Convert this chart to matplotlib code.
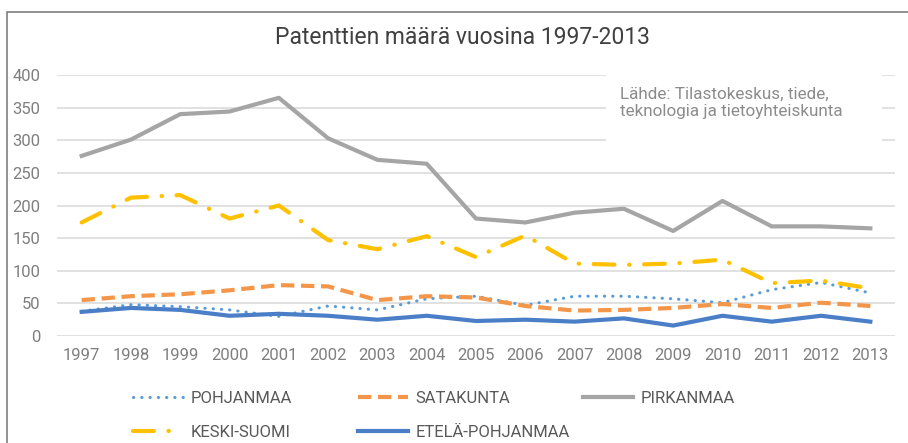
import matplotlib.pyplot as plt
from matplotlib.patches import Rectangle

plt.rcParams['font.family'] = ['Roboto', 'DejaVu Sans']

years = list(range(1997, 2014))
pohjanmaa = [38, 48, 45, 40, 30, 46, 40, 57, 61, 47, 61, 61, 57, 51, 71, 82, 66]
satakunta = [55, 61, 64, 70, 78, 76, 55, 61, 59, 46, 39, 40, 43, 49, 43, 51, 46]
pirkanmaa = [276, 301, 340, 344, 365, 303, 270, 264, 180, 174, 189, 195, 161, 207, 168, 168, 165]
keski_suomi = [174, 212, 216, 180, 200, 147, 133, 153, 121, 154, 111, 109, 111, 117, 81, 85, 73]
etela_pohjanmaa = [37, 43, 40, 31, 34, 31, 25, 31, 23, 25, 22, 27, 16, 31, 22, 31, 22]
yticks = [0, 50, 100, 150, 200, 250, 300, 350, 400]

txt = '#595959'
fig = plt.figure(figsize=(9.08, 4.43), dpi=100)
# frame of the chart area (runs off the right and bottom edges)
fig.patches.append(Rectangle((7 / 908, -0.2), 1.2, 1.2 - 12 / 443, transform=fig.transFigure,
                             fill=False, edgecolor='#7f7f7f', linewidth=1.2))

ax = fig.add_axes([57 / 908, 1 - 336 / 443, 838 / 908, 261 / 443])
ax.set_xlim(1996.5, 2013.5)
ax.set_ylim(0, 400)
ax.set_yticks(yticks)
ax.set_xticks(years)
ax.set_xticklabels([str(y) for y in years])
ax.grid(axis='y', color='#d9d9d9', linewidth=1.1)
ax.set_axisbelow(True)
for s in ax.spines.values():
    s.set_visible(False)
ax.tick_params(length=0, labelsize=12, colors=txt, labelcolor='#7f7f7f')
ax.tick_params(axis='y', pad=12)
ax.tick_params(axis='x', pad=9)

l1, = ax.plot(years, pohjanmaa, color='#5b9bd5', linewidth=2.2, linestyle=(0, (0.1, 2.6)),
              dash_capstyle='round', label='POHJANMAA')
l2, = ax.plot(years, satakunta, color='#f4964a', linewidth=3, linestyle=(0, (3.2, 1.6)),
              label='SATAKUNTA')
l3, = ax.plot(years, pirkanmaa, color='#a5a5a5', linewidth=3, label='PIRKANMAA')
l4, = ax.plot(years, keski_suomi, color='#ffc000', linewidth=3,
              linestyle=(0, (5, 3.5, 0.1, 3.5)), dash_capstyle='round', label='KESKI-SUOMI')
l5, = ax.plot(years, etela_pohjanmaa, color='#4a7fc8', linewidth=3, label='ETELÄ-POHJANMAA')

fig.text(462 / 908, 1 - 38 / 443, 'Patenttien määrä vuosina 1997-2013', ha='center', va='center',
         fontsize=16.5, color='#404040')

fig.patches.append(Rectangle((606 / 908, 1 - 142 / 443), 276 / 908, 70 / 443, transform=fig.transFigure,
                             facecolor='white', edgecolor='none', zorder=2))
fig.text(620 / 908, 1 - 103 / 443, 'Lähde: Tilastokeskus, tiede,\nteknologia ja tietoyhteiskunta',
         ha='left', va='center', fontsize=12.3, color='#8c8c8c', linespacing=1.2, zorder=3)

# legend laid out as three fixed columns
columns = [([l1, l4], 133), ([l2, l5], 358), ([l3], 583)]
for hs, x0 in columns:
    leg = fig.legend(handles=hs, labels=[h.get_label() for h in hs], loc='upper left',
                     bbox_to_anchor=(x0 / 908, 1 - 391 / 443), frameon=False, borderpad=0,
                     borderaxespad=0, fontsize=12, labelcolor=txt, handlelength=3.0,
                     handletextpad=0.45, labelspacing=1.15)

plt.savefig('out.png', dpi=100)
